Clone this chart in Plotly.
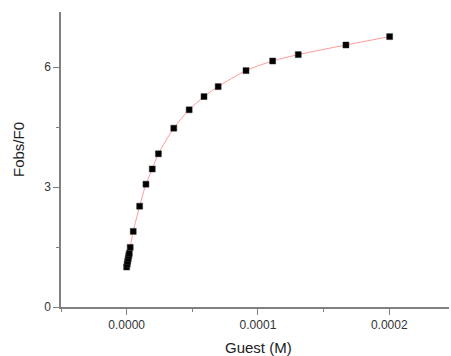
import plotly.graph_objects as go

# Titration data: guest concentration (M) vs. relative fluorescence
guest_conc = [0.0, 0.4e-6, 0.8e-6, 1.2e-6, 1.6e-6, 2.0e-6,
              2.7e-6, 5.0e-6, 9.9e-6, 14.7e-6, 19.5e-6, 24.2e-6,
              35.9e-6, 47.6e-6, 58.9e-6, 69.7e-6, 90.9e-6, 111.2e-6,
              130.7e-6, 167.0e-6, 200.3e-6]
fobs_f0 = [1.00, 1.07, 1.14, 1.21, 1.28, 1.34,
           1.49, 1.89, 2.52, 3.07, 3.45, 3.83,
           4.47, 4.93, 5.26, 5.51, 5.91, 6.15,
           6.31, 6.55, 6.76]

x_ticks = [0.0, 0.0001, 0.0002]
x_ticklabels = ["0.0000", "0.0001", "0.0002"]
y_ticks = [0, 3, 6]

axis_color = "#808080"
text_color = "#333333"
font_family = "Liberation Sans, Arial, sans-serif"

fig = go.Figure()

# Fitted curve
fig.add_trace(go.Scatter(
    x=guest_conc, y=fobs_f0, mode="lines",
    line=dict(color="#ff9a9a", width=1, shape="spline", smoothing=0.8),
    hoverinfo="skip", showlegend=False,
))

# Measured points
fig.add_trace(go.Scatter(
    x=guest_conc, y=fobs_f0, mode="markers",
    marker=dict(symbol="square", size=6, color="#000000",
                line=dict(color="#333333", width=0.5)),
    showlegend=False,
))

fig.update_layout(
    width=451, height=356,
    margin=dict(l=61, r=2, t=12, b=49),
    paper_bgcolor="white", plot_bgcolor="white",
    font=dict(family=font_family, size=12, color=text_color),
    xaxis=dict(
        range=[-0.00005, 0.0002455],
        tickmode="array", tickvals=x_ticks, ticktext=x_ticklabels,
        ticks="outside", ticklen=6, tickwidth=1.2, tickcolor=axis_color,
        minor=dict(dtick=0.00005, tick0=0, ticks="outside", ticklen=3,
                   tickcolor=axis_color, tickwidth=1.2),
        showline=True, linecolor=axis_color, linewidth=1.5,
        showgrid=False, zeroline=False,
        tickfont=dict(size=12, color=text_color),
    ),
    yaxis=dict(
        range=[0, 7.375],
        tickmode="array", tickvals=y_ticks,
        ticks="outside", ticklen=6, tickwidth=1.2, tickcolor=axis_color,
        minor=dict(dtick=1.5, tick0=0, ticks="outside", ticklen=3,
                   tickcolor=axis_color, tickwidth=1.2),
        showline=True, linecolor=axis_color, linewidth=1.5,
        showgrid=False, zeroline=False,
        tickfont=dict(size=12, color=text_color),
    ),
    annotations=[
        dict(text="Guest (M)", xref="paper", yref="paper",
             x=(258.7 - 61) / 388, y=-40 / 295, xanchor="center", yanchor="middle",
             showarrow=False, font=dict(size=15, color="#222222")),
        dict(text="Fobs/F0", xref="paper", yref="paper",
             x=-43 / 388, y=(307 - 150) / 295, xanchor="center", yanchor="middle",
             textangle=-90, showarrow=False, font=dict(size=15, color="#222222")),
    ],
)

fig.write_html("out.html")
